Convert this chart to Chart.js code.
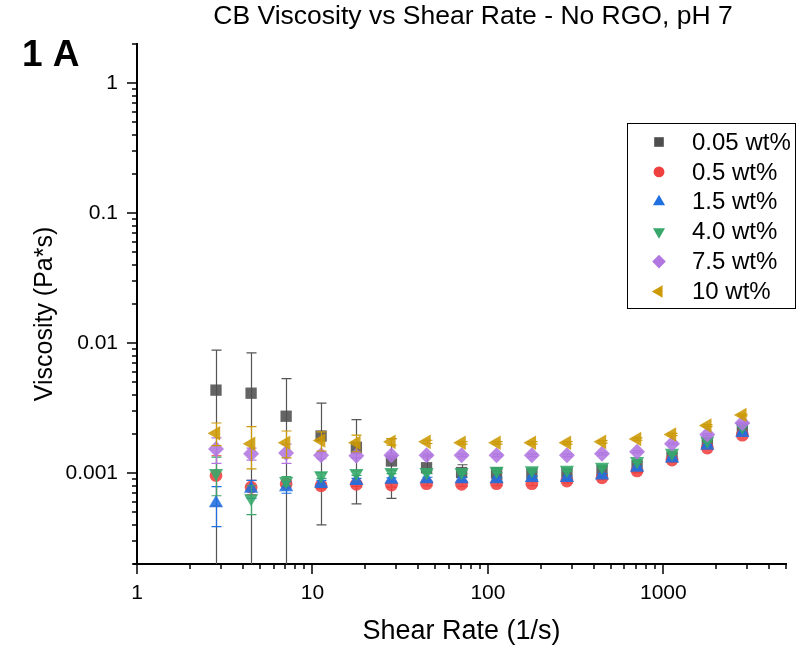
<!DOCTYPE html>
<html><head><meta charset="utf-8">
<script src="https://cdn.jsdelivr.net/npm/chart.js@4.4.0/dist/chart.umd.min.js"></script>
<style>html,body{margin:0;padding:0;background:#fff;overflow:hidden}#wrap{width:797px;height:651px;position:relative}</style>
</head><body><div id="wrap"><canvas id="c"></canvas></div>
<script>
// ---------------- DATA ----------------
const chartTitle = 'CB Viscosity vs Shear Rate - No RGO, pH 7';
const panelLabel = '1 A';
const xAxisTitle = 'Shear Rate (1/s)';
const yAxisTitle = 'Viscosity (Pa*s)';
const xTickValues = [1, 10, 100, 1000];
const yTickValues = [0.001, 0.01, 0.1, 1];
const shearRate = [2.82, 4.47, 7.08, 11.2, 17.8, 28.2, 44.7, 70.8, 112, 178, 282, 447, 708, 1120, 1780, 2820];
const seriesNames = ['0.05 wt%', '0.5 wt%', '1.5 wt%', '4.0 wt%', '7.5 wt%', '10 wt%'];
const visc005 = [0.00435, 0.00412, 0.00274, 0.00193, 0.00158, 0.00124, 0.00110, 0.00101, 0.00100, 0.00099, 0.00100, 0.00105, 0.00114, 0.00133, 0.00171, 0.00215];
const err005  = [0.00448, 0.0043, 0.0026, 0.00153, 0.0010, 0.0006, 0.00025, 0.00015, 0.0001, 0.0001, 0.00008, 0.00008, 0.00008, 0.00008, 0.00008, 0.0001];
const visc05  = [0.00096, 0.00078, 0.00083, 0.00080, 0.00082, 0.00081, 0.00083, 0.00082, 0.00083, 0.00083, 0.00087, 0.00092, 0.00104, 0.00126, 0.00156, 0.00196];
const err05   = [0.0004, 0.0001, 0.00005, 0.00004, 0.00003, 0.00003, 0.00003, 0.00003, 0.00003, 0.00003, 0.00003, 0.00003, 0.00003, 0.00003, 0.00003, 0.00003];
const visc15  = [0.000588, 0.00076, 0.00078, 0.00083, 0.00087, 0.00089, 0.00090, 0.00090, 0.00090, 0.00092, 0.00092, 0.00096, 0.00110, 0.00130, 0.00163, 0.00204];
const err15   = [0.0002, 0.00012, 0.00008, 0.00005, 0.00004, 0.00003, 0.00003, 0.00003, 0.00003, 0.00003, 0.00003, 0.00003, 0.00003, 0.00003, 0.00003, 0.00003];
const visc40  = [0.00100, 0.00064, 0.00087, 0.00096, 0.00100, 0.00102, 0.00102, 0.00102, 0.00104, 0.00105, 0.00106, 0.00112, 0.00124, 0.00143, 0.00178, 0.00228];
const err40   = [0.00033, 0.00016, 0.00007, 0.00005, 0.00004, 0.00003, 0.00003, 0.00003, 0.00003, 0.00003, 0.00003, 0.00003, 0.00003, 0.00003, 0.00003, 0.00003];
const visc75  = [0.00153, 0.00141, 0.00143, 0.00137, 0.00136, 0.00137, 0.00137, 0.00137, 0.00137, 0.00137, 0.00137, 0.00141, 0.00146, 0.00168, 0.00198, 0.00243];
const err75   = [0.00034, 0.00015, 0.00024, 0.00008, 0.00005, 0.00004, 0.00003, 0.00003, 0.00003, 0.00003, 0.00003, 0.00003, 0.00003, 0.00003, 0.00003, 0.00003];
const visc10  = [0.00203, 0.00168, 0.00171, 0.00178, 0.00171, 0.00174, 0.00174, 0.00171, 0.00171, 0.00171, 0.00171, 0.00174, 0.00183, 0.00198, 0.00232, 0.00280];
const err10   = [0.0004, 0.0006, 0.0004, 0.0003, 0.00025, 0.0001, 0.00005, 0.00004, 0.00004, 0.00004, 0.00004, 0.00004, 0.00004, 0.00004, 0.00004, 0.00004];

// ---------------- STYLE ----------------
const FONT = "'Liberation Sans', Arial, Helvetica, sans-serif";
const seriesValues = [visc005, visc05, visc15, visc40, visc75, visc10];
const seriesErrors = [err005, err05, err15, err40, err75, err10];
const colors = ['#4e4e4e', '#ef4040', '#1f6fe0', '#37a86a', '#b176e0', '#cc9a04'];
const errColors = ['#555555', '#ef4040', '#1f6fe0', '#37a86a', '#b176e0', '#cc9a04'];
const shapes = ['rect', 'circle', 'triangle', 'triangle', 'rectRot', 'triangle'];
const rotations = [0, 0, 0, 180, 0, 270];
const radii = [8, 6.4, 8.2, 8.2, 8, 8.4];

function hexA(h, a) {
  const n = parseInt(h.slice(1), 16);
  return `rgba(${(n >> 16) & 255},${(n >> 8) & 255},${n & 255},${a})`;
}

const datasets = seriesNames.map((name, i) => ({
  label: name,
  data: shearRate.map((x, k) => ({x: x, y: seriesValues[i][k]})),
  showLine: false,
  pointStyle: shapes[i],
  rotation: rotations[i],
  pointRadius: radii[i],
  pointHoverRadius: radii[i],
  pointBackgroundColor: hexA(colors[i], 0.88),
  pointBorderWidth: 0,
  pointBorderColor: 'rgba(0,0,0,0)',
  order: seriesNames.length - i
}));

const errorBarPlugin = {
  id: 'errorBars',
  beforeDatasetDraw(chart, args) {
    const i = args.index;
    const ds = chart.data.datasets[i];
    const xs = chart.scales.x, ys = chart.scales.y, ca = chart.chartArea, ctx = chart.ctx;
    ctx.save();
    ctx.beginPath();
    ctx.rect(ca.left, ca.top, ca.right - ca.left, ca.bottom - ca.top);
    ctx.clip();
    ctx.strokeStyle = errColors[i];
    ctx.lineWidth = 1.2;
    ds.data.forEach((p, k) => {
      const e = seriesErrors[i][k];
      const x = Math.round(xs.getPixelForValue(p.x)) + 0.5;
      const hi = ys.getPixelForValue(p.y + e);
      const lo = (p.y - e) > 0 ? ys.getPixelForValue(p.y - e) : ca.bottom + 20;
      ctx.beginPath();
      ctx.moveTo(x, hi); ctx.lineTo(x, lo);
      ctx.moveTo(x - 5, hi); ctx.lineTo(x + 5, hi);
      ctx.moveTo(x - 5, lo); ctx.lineTo(x + 5, lo);
      ctx.stroke();
    });
    ctx.restore();
  }
};

const axisTickPlugin = {
  id: 'axisTicks',
  afterDraw(chart) {
    const ctx = chart.ctx, xs = chart.scales.x, ys = chart.scales.y, ca = chart.chartArea;
    ctx.save();
    ctx.strokeStyle = '#000';
    ctx.lineWidth = 1.5;
    const decades = (s) => {
      const out = [];
      for (let e = Math.floor(Math.log10(s.min)); e <= Math.ceil(Math.log10(s.max)); e++) {
        for (let m = 1; m <= 9; m++) {
          const v = m * Math.pow(10, e);
          if (v >= s.min * 0.999 && v <= s.max * 1.001) out.push({v, major: m === 1});
        }
      }
      return out;
    };
    decades(xs).forEach(t => {
      const px = Math.round(xs.getPixelForValue(t.v));
      ctx.beginPath();
      ctx.moveTo(px, ca.bottom); ctx.lineTo(px, ca.bottom + (t.major ? 10 : 5));
      ctx.stroke();
    });
    decades(ys).forEach(t => {
      const py = Math.round(ys.getPixelForValue(t.v));
      ctx.beginPath();
      ctx.moveTo(ca.left, py); ctx.lineTo(ca.left - (t.major ? 10 : 5), py);
      ctx.stroke();
    });
    // small extension of x axis line to the left, like the reference
    ctx.lineWidth = 2;
    ctx.beginPath();
    ctx.moveTo(ca.left - 4, ca.bottom); ctx.lineTo(ca.left, ca.bottom);
    ctx.stroke();
    ctx.restore();
  }
};

const textPlugin = {
  id: 'texts',
  afterDraw(chart) {
    const ctx = chart.ctx;
    ctx.save();
    ctx.fillStyle = '#000';
    ctx.textBaseline = 'middle';
    ctx.textAlign = 'center';
    ctx.font = `26.5px ${FONT}`;
    ctx.fillText(chartTitle, 473, 17);
    // y axis title
    ctx.save();
    ctx.translate(45, 314);
    ctx.rotate(-Math.PI / 2);
    ctx.font = `25px ${FONT}`;
    ctx.fillText(yAxisTitle, 0, 0);
    ctx.restore();
    ctx.textAlign = 'left';
    ctx.font = `bold 37px ${FONT}`;
    ctx.fillText(panelLabel, 22, 56);
    // legend
    ctx.strokeStyle = '#000';
    ctx.lineWidth = 1;
    ctx.strokeRect(627.5, 123.5, 168, 185);
    ctx.font = `24px ${FONT}`;
    seriesNames.forEach((name, i) => {
      const y = 142 + 29.9 * i;
      ctx.fillStyle = colors[i];
      Chart.helpers.drawPoint(ctx, {pointStyle: shapes[i], rotation: rotations[i], radius: radii[i] * 0.85, borderWidth: 0}, 659, y);
      ctx.fillStyle = '#000';
      ctx.fillText(name, 692, y + 1);
    });
    ctx.restore();
  }
};

new Chart(document.getElementById('c'), {
  type: 'scatter',
  data: {datasets},
  plugins: [errorBarPlugin, axisTickPlugin, textPlugin],
  options: {
    responsive: true,
    maintainAspectRatio: false,
    animation: false,
    layout: {padding: {top: 44, right: 11, left: 0, bottom: 0}},
    plugins: {legend: {display: false}, tooltip: {enabled: false}, title: {display: false}},
    scales: {
      x: {
        type: 'logarithmic', position: 'bottom', min: 1, max: 5000,
        afterBuildTicks: (s) => { s.ticks = xTickValues.map(v => ({value: v})); },
        afterFit: (s) => { s.height = 87; },
        grid: {display: false, drawTicks: false, tickLength: 0},
        border: {display: true, color: '#000', width: 2},
        ticks: {color: '#000', font: {family: FONT, size: 21}, padding: 17, maxRotation: 0, autoSkip: false,
                callback: (v) => String(v)},
        title: {display: true, text: xAxisTitle, color: '#000', font: {family: FONT, size: 27}, padding: {top: 0, bottom: 3}}
      },
      y: {
        type: 'logarithmic', position: 'left', min: 0.0002, max: 2,
        afterBuildTicks: (s) => { s.ticks = yTickValues.map(v => ({value: v})); },
        afterFit: (s) => { s.width = 137; },
        grid: {display: false, drawTicks: false, tickLength: 0},
        border: {display: true, color: '#000', width: 2},
        ticks: {color: '#000', font: {family: FONT, size: 21}, padding: 19, autoSkip: false,
                callback: (v) => String(v)},
        title: {display: false}
      }
    }
  }
});
</script></body></html>
